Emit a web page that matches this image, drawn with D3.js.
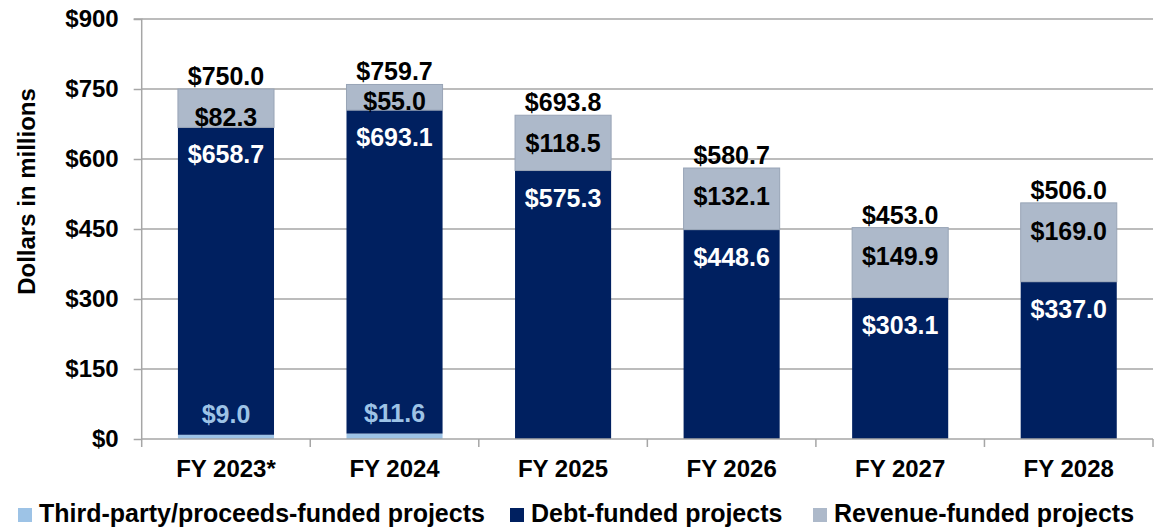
<!DOCTYPE html>
<html>
<head>
<meta charset="utf-8">
<script src="https://cdn.jsdelivr.net/npm/d3@7"></script>
<style>
    body { margin: 0; background: #fff; }
    svg text { font-family: "Liberation Sans", Arial, sans-serif; font-weight: bold; }
    .grid-line { stroke: #a6a6a6; stroke-width: 1.5; }
</style>
</head>
<body>
<svg id="chart" width="1157" height="529"></svg>
<script>
const categories = ['FY 2023*', 'FY 2024', 'FY 2025', 'FY 2026', 'FY 2027', 'FY 2028'];
const thirdParty = [9.0, 11.6, 0, 0, 0, 0];
const debtFunded = [658.7, 693.1, 575.3, 448.6, 303.1, 337.0];
const revenueFunded = [82.3, 55.0, 118.5, 132.1, 149.9, 169.0];
const totals = [750.0, 759.7, 693.8, 580.7, 453.0, 506.0];
const yTicks = [0, 150, 300, 450, 600, 750, 900];
const seriesNames = ['Third-party/proceeds-funded projects', 'Debt-funded projects', 'Revenue-funded projects'];
const seriesColors = ['#9dc3e6', '#002060', '#adb9ca'];

const plot = {left: 141.7, right: 1153, top: 19, bottom: 439};
const fmt = d => '$' + d3.format('.1f')(d);

let svg = d3.select('#chart');

let x = d3.scaleBand()
            .domain(categories)
            .range([plot.left, plot.right])
            .paddingInner(0.43)
            .paddingOuter(0.215);

let y = d3.scaleLinear()
            .domain([0, 900])
            .range([plot.bottom, plot.top]);

renderGrid();
renderBars();
renderAxes();
renderLabels();
renderLegend();

function renderGrid(){
    svg.append('g')
        .selectAll('line')
        .data(yTicks.filter(d => d > 0))
        .join('line')
        .classed('grid-line', true)
        .attr('x1', plot.left)
        .attr('x2', plot.right)
        .attr('y1', d => y(d))
        .attr('y2', d => y(d));
}

function renderBars(){
    let rows = categories.map((c, i) => ({cat: c, third: thirdParty[i], debt: debtFunded[i], revenue: revenueFunded[i]}));
    let stack = d3.stack().keys(['third', 'debt', 'revenue'])(rows);

    svg.append('g')
        .selectAll('g')
        .data(stack)
        .join('g')
        .attr('fill', (d, i) => seriesColors[i])
        .attr('stroke', (d, i) => i === 2 ? '#98a4b6' : 'none')
        .attr('stroke-width', 1)
        .selectAll('rect')
        .data(d => d.filter(p => p[1] > p[0]))
        .join('rect')
        .attr('x', d => x(d.data.cat))
        .attr('width', x.bandwidth())
        .attr('y', d => y(d[1]))
        .attr('height', d => y(d[0]) - y(d[1]));
}

function renderAxes(){
    let yAxis = d3.axisLeft(y).tickValues(yTicks).tickSize(8).tickPadding(15).tickFormat(d => '$' + d);
    let yg = svg.append('g')
        .attr('class', 'y-axis')
        .attr('transform', `translate(${plot.left}, 0)`)
        .call(yAxis);
    yg.select('.domain').attr('stroke', '#a6a6a6').attr('stroke-width', 1.5).attr('d', `M-8,${plot.top}H0V${plot.bottom}`);
    yg.selectAll('.tick line').attr('stroke', '#a6a6a6').attr('stroke-width', 1.5);
    yg.selectAll('.tick text').attr('font-size', 24).attr('fill', '#000').attr('font-family', null);

    // x axis: ticks at band boundaries
    let xg = svg.append('g').attr('class', 'x-axis');
    xg.append('line')
        .attr('x1', plot.left).attr('x2', plot.right)
        .attr('y1', plot.bottom).attr('y2', plot.bottom)
        .attr('stroke', '#a6a6a6').attr('stroke-width', 1.5);
    let bounds = categories.map(c => x(c) - x.step() * x.paddingInner() / 2);
    bounds.push(plot.right);
    xg.selectAll('line.tick')
        .data(bounds)
        .join('line')
        .attr('class', 'tick')
        .attr('x1', d => d).attr('x2', d => d)
        .attr('y1', plot.bottom).attr('y2', plot.bottom + 8)
        .attr('stroke', '#a6a6a6').attr('stroke-width', 1.5);
    xg.selectAll('text')
        .data(categories)
        .join('text')
        .attr('x', d => x(d) + x.bandwidth() / 2)
        .attr('y', 477)
        .attr('text-anchor', 'middle')
        .attr('font-size', 24)
        .text(d => d);

    svg.append('text')
        .attr('transform', 'translate(35, 191.5) rotate(-90)')
        .attr('text-anchor', 'middle')
        .attr('font-size', 24)
        .text('Dollars in millions');
}

function renderLabels(){
    let g = svg.append('g').attr('font-size', 25).attr('text-anchor', 'middle');
    let cx = c => x(c) + x.bandwidth() / 2;

    // third-party values, sitting just above their thin segment
    g.selectAll('text.third')
        .data(categories.filter((c, i) => thirdParty[i] > 0))
        .join('text')
        .attr('class', 'third')
        .attr('x', d => cx(d))
        .attr('y', d => y(thirdParty[categories.indexOf(d)]) - 12)
        .attr('fill', '#9dc3e6')
        .text(d => fmt(thirdParty[categories.indexOf(d)]));

    g.selectAll('text.debt')
        .data(categories)
        .join('text')
        .attr('class', 'debt')
        .attr('x', d => cx(d))
        .attr('y', (d, i) => y(thirdParty[i] + debtFunded[i]) + 36)
        .attr('fill', '#fff')
        .text((d, i) => fmt(debtFunded[i]));

    g.selectAll('text.revenue')
        .data(categories)
        .join('text')
        .attr('class', 'revenue')
        .attr('x', d => cx(d))
        .attr('y', (d, i) => {
            let base = thirdParty[i] + debtFunded[i];
            return Math.min(y(base + revenueFunded[i]) + 37, y(base));
        })
        .attr('fill', '#000')
        .text((d, i) => fmt(revenueFunded[i]));

    g.selectAll('text.total')
        .data(categories)
        .join('text')
        .attr('class', 'total')
        .attr('x', d => cx(d))
        .attr('y', (d, i) => y(totals[i]) - 4)
        .attr('fill', '#000')
        .text((d, i) => fmt(totals[i]));
}

function renderLegend(){
    let xs = [18, 510, 813];
    let items = svg.append('g')
        .selectAll('g')
        .data(seriesNames)
        .join('g')
        .attr('transform', (d, i) => `translate(${xs[i]}, 508)`);
    items.append('rect')
        .attr('width', 14).attr('height', 14)
        .attr('fill', (d, i) => seriesColors[i]);
    items.append('text')
        .attr('x', 21).attr('y', 14)
        .attr('font-size', 25)
        .text(d => d);
}
</script>
</body>
</html>
